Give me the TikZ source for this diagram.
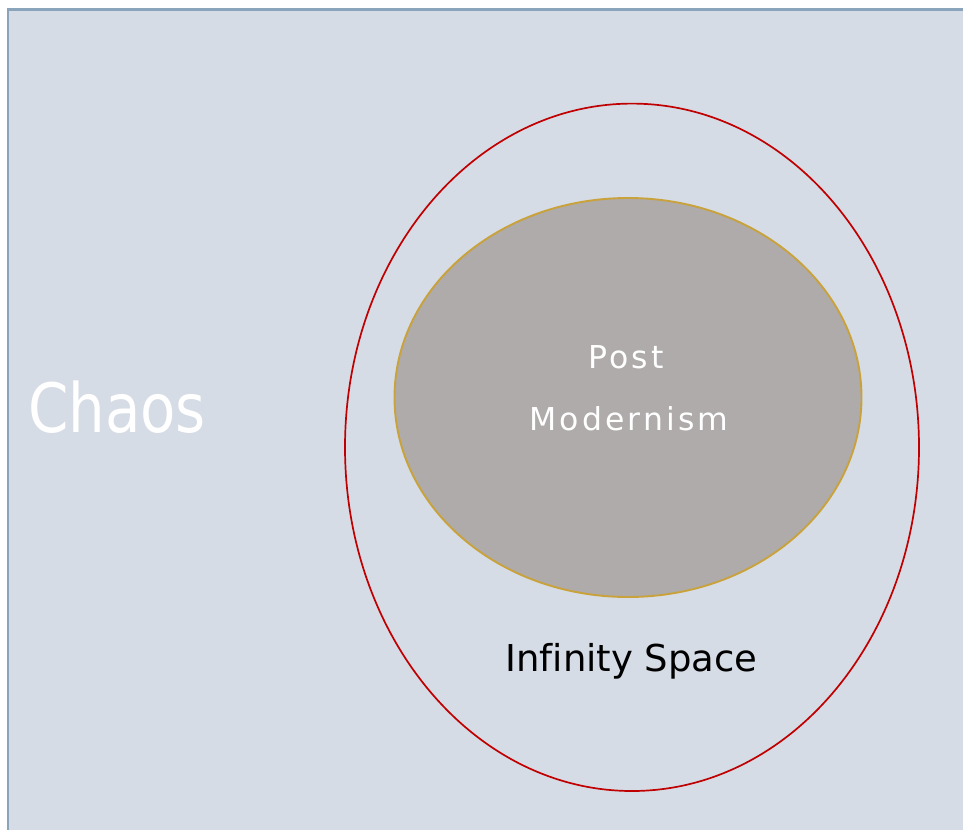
\documentclass[tikz,border=0pt]{standalone}
\usepackage{fontspec}
\usepackage{graphicx}
\setmainfont[Ligatures=NoCommon]{DejaVu Sans}
\newfontfamily\spacedfont[LetterSpace=10]{DejaVu Sans}
\definecolor{bgfill}{HTML}{D6DCE5}
\definecolor{bgedge}{HTML}{8AA4BC}
\definecolor{outerred}{HTML}{C00000}
\definecolor{innerfill}{HTML}{AFABAA}
\definecolor{inneredge}{HTML}{C9A23C}
\tikzset{
  lbl/.style={inner sep=0pt, outer sep=0pt, anchor=base},
}
\begin{document}
\begin{tikzpicture}[x=1pt,y=-1pt]
\useasboundingbox (0,0) rectangle (963,830);
\fill[white] (0,0) rectangle (963,830);
\fill[bgfill] (8,9.5) rectangle (963,830);
\draw[bgedge, line width=2.5pt] (8,830) -- (8,9.5) -- (963,9.5);
% outer ellipse
\draw[outerred, line width=1.7pt] (632,447.3) ellipse [x radius=287, y radius=343.7];
\node[inner sep=0pt] (outer) at (632,447.3) {};
% inner ellipse
\draw[inneredge, fill=innerfill, line width=1.9pt] (628,397.5) ellipse [x radius=233.5, y radius=199.5];
\node[inner sep=0pt] (inner) at (628,397.5) {};
% texts
\node[lbl, white] (chaos) at (117,432) {\scalebox{0.85}[1]{\fontsize{68}{68}\selectfont Chaos}};
\node[lbl, white] (post) at (626,368) {\fontsize{31.5}{31.5}\spacedfont Post};
\node[lbl, white] (modern) at (629,430) {\fontsize{31.5}{31.5}\spacedfont Modernism};
\node[lbl, black] (infinity) at (631.5,671.7) {\fontsize{37}{37}\selectfont Infinity Space};
\end{tikzpicture}
\end{document}
